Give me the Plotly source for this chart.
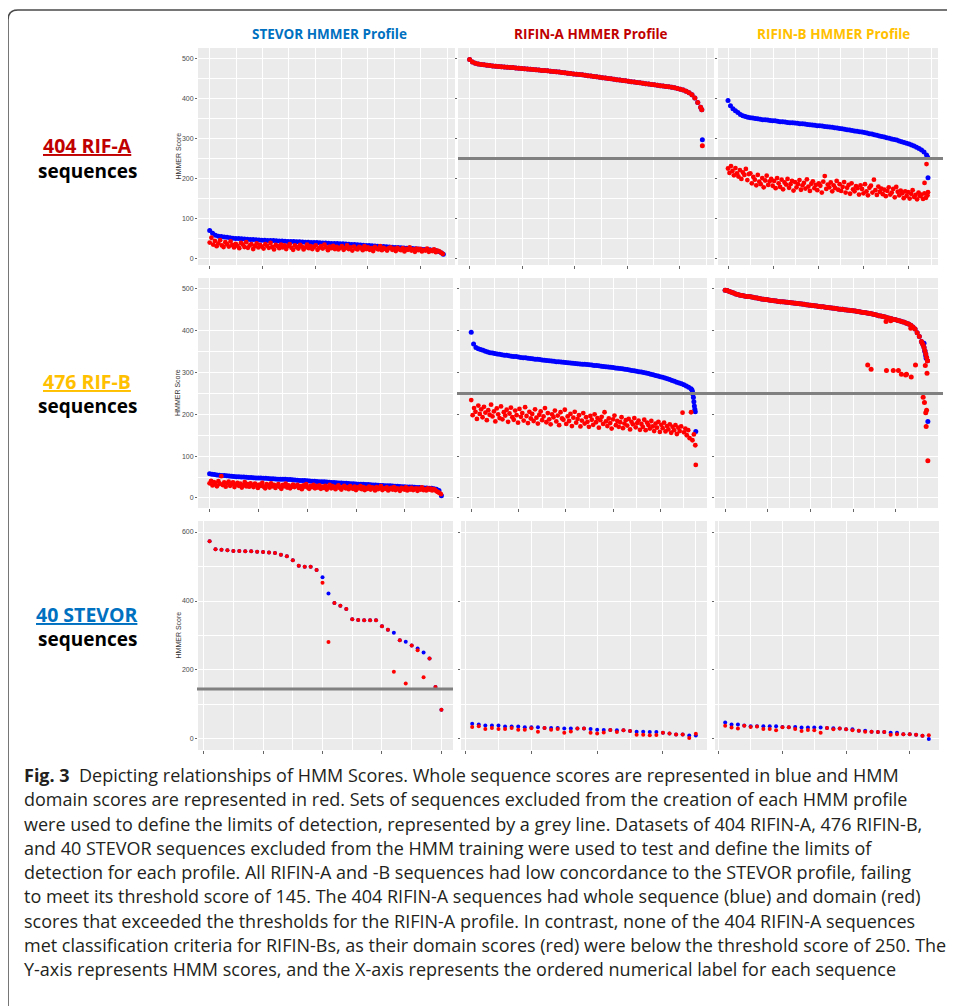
import plotly.graph_objects as go

W, H = 955, 1006
OFF = 8  # browser body margin: page content starts 8px right / down

# ================= DATA =================
col_titles = ["STEVOR HMMER Profile", "RIFIN-A HMMER Profile", "RIFIN-B HMMER Profile"]
row_counts = ["404 RIF-A", "476 RIF-B", "40 STEVOR"]
thresholds = {"STEVOR": 145, "RIFIN-A": 250, "RIFIN-B": 250}

# ---- Row 1: 404 RIF-A sequences (smooth series sampled every 5th, noisy every 3rd sequence)
r1c1_blue = [70, 63, 58, 56, 55, 54, 53, 52, 51, 50.5, 50, 49.5, 49, 48.5, 48, 47.5, 47, 46.5, 46, 46,
             45.5, 45, 45, 44.5, 44, 44, 43.5, 43, 43, 42.5, 42, 42, 41.5, 41, 41, 40.5, 40, 40, 39.5, 39,
             39, 38.5, 38, 38, 37.5, 37, 37, 36.5, 36, 35.5, 35, 34.5, 34, 33.5, 33, 32.5, 32, 31.5, 31, 30.5,
             30, 29.5, 29, 28.5, 28, 27.5, 27, 26.5, 26, 25.5, 25, 24.5, 24, 23.5, 23, 22.5, 22, 21, 20, 18, 14]
r1c1_blue_tail_idx = [404]
r1c1_blue_tail = [11]
r1c1_red = [40, 52, 35, 44, 31, 38, 46, 33, 29, 41, 36, 30, 43, 34, 28,
            37, 32, 26, 39, 35, 29, 41, 27, 33, 36, 24, 31, 38, 28, 34,
            30, 25, 36, 32, 27, 39, 29, 23, 34, 31, 26, 35, 28, 33, 24,
            31, 36, 27, 22, 33, 29, 25, 34, 30, 23, 28, 35, 26, 31, 24,
            29, 33, 22, 27, 31, 25, 35, 28, 21, 30, 26, 32, 24, 29, 23,
            27, 31, 22, 26, 33, 24, 28, 20, 30, 25, 23, 29, 27, 21, 31,
            24, 28, 22, 26, 19, 29, 25, 23, 31, 21, 27, 24, 20, 26, 28,
            22, 25, 19, 27, 23, 21, 26, 18, 24, 22, 28, 20, 23, 17, 25,
            21, 24, 18, 22, 20, 25, 17, 21, 19, 23, 16, 20, 18, 15, 12]

# RIFIN-A profile: whole-sequence (blue) and domain (red) scores coincide except the last sequence
r1c2_both = [497, 491, 488, 486, 485, 484, 483, 482, 481, 480.5, 480, 479, 478.5, 478, 477.5, 477, 476,
             475.5, 475, 474, 473.5, 473, 472, 471.5, 471, 470, 469.5, 469, 468, 467, 466.5, 466, 465,
             464, 463, 462, 461, 460.5, 460, 459, 458, 457, 456, 455, 454, 453, 452, 451, 450, 449, 448,
             447, 446, 445, 444, 443, 442, 441, 440, 439, 438, 437, 436, 435, 434, 433, 432, 431, 430,
             429, 428, 427, 425, 423, 421, 418, 414, 409, 401, 390, 378]
r1c2_tail_idx = [403, 404]
r1c2_blue_tail = [372, 297]
r1c2_red_tail = [372, 282]

r1c3_blue = [395, 382, 374, 369, 365, 360, 357, 355, 353, 352, 351, 350, 349, 348, 347, 346.5, 346,
             345, 344.5, 344, 343, 342, 341.5, 341, 340, 339.5, 339, 338.5, 338, 337, 336.5, 336, 335,
             334, 333.5, 333, 332, 331.5, 331, 330, 329, 328.5, 328, 327, 326, 325, 324, 323, 322, 321,
             320, 319, 318, 317, 316, 315, 313.5, 312, 311, 309.5, 308, 306.5, 305, 303.5, 302, 300.5,
             299, 297.5, 296, 294, 292, 290, 288, 286, 284, 281, 278, 275, 271, 266, 259]
r1c3_blue_tail_idx = [403, 404]
r1c3_blue_tail = [254, 202]
r1c3_red = [225, 214, 231, 219, 208, 226, 213, 205, 221, 199, 215, 209, 224, 196, 211,
            213, 188, 204, 197, 183, 209, 192, 186, 201, 178, 195, 207, 184, 193, 199,
            182, 194, 176, 201, 188, 179, 197, 173, 190, 185, 199, 177, 186, 194, 170,
            191, 178, 186, 196, 172, 183, 189, 175, 198, 180, 169, 187, 193, 176, 184,
            171, 188, 182, 165, 192, 206, 174, 185, 178, 190, 168, 183, 176, 194, 172,
            186, 169, 179, 191, 165, 177, 184, 162, 188, 173, 168, 181, 176, 160, 183,
            174, 163, 186, 168, 158, 177, 182, 165, 197, 171, 159, 180, 167, 175, 161,
            172, 156, 169, 178, 160, 165, 174, 153, 179, 167, 158, 170, 163, 151, 168,
            157, 166, 150, 162, 171, 154, 159, 148, 165, 156, 160, 149, 163, 152, 158]
r1c3_red_tail_idx = [397, 401, 404]
r1c3_red_tail = [189, 236, 166]

# ---- Row 2: 476 RIF-B sequences
r2c1_blue = [58, 57, 56, 55, 54.5, 54, 53.5, 53, 52.5, 52, 51.5, 51, 50.5, 50, 50, 49.5, 49, 49, 48.5, 48,
             48, 47.5, 47, 47, 46.5, 46, 46, 45.5, 45, 45, 44.5, 44.5, 44, 44, 43.5, 43, 42.5, 42, 42, 41.5,
             41, 40.5, 40, 40, 39.5, 39, 39, 38.5, 38, 37.5, 37, 37, 36.5, 36, 35.5, 35, 35, 34.5, 34, 34,
             33.5, 33, 33, 32.5, 32, 32, 31.5, 31, 31, 30.5, 30, 30, 29.5, 29, 29, 28.5, 28, 28, 27.5, 27,
             27, 26.5, 26, 26, 25.5, 25, 25, 24.5, 24, 24, 23.5, 23, 22, 21, 18, 5]
r2c1_red = [35, 41, 30, 38, 33, 28, 40, 34, 52, 31, 37, 27, 35, 39, 29,
            33, 37, 26, 32, 36, 29, 34, 25, 31, 38, 28, 33, 27, 35, 30,
            26, 34, 31, 24, 32, 29, 36, 27, 23, 33, 30, 25, 35, 28, 31,
            24, 29, 33, 26, 22, 31, 28, 34, 25, 30, 23, 27, 32, 26, 29,
            31, 24, 28, 21, 30, 27, 33, 25, 22, 29, 26, 31, 23, 28, 25,
            30, 22, 27, 24, 29, 20, 26, 31, 23, 28, 25, 21, 27, 30, 24,
            20, 26, 29, 23, 25, 21, 28, 24, 22, 27, 19, 25, 23, 28, 21,
            26, 19, 24, 22, 27, 20, 25, 23, 18, 26, 21, 24, 28, 19, 23,
            22, 25, 18, 21, 24, 20, 26, 19, 23, 21, 17, 24, 22, 20, 25,
            18, 22, 20, 24, 19, 21, 23, 17, 22, 20, 25, 19, 21, 18, 23,
            20, 22, 18, 21, 19, 16, 14, 12, 9]

r2c2_blue = [396, 368, 360, 357, 355, 353, 351, 349, 347.5, 346.5, 345.5, 344.5, 343.5, 342.5, 341.5, 341,
             340, 339, 338.5, 338, 337, 336, 335.5, 335, 334, 333.5, 333, 332, 331.5, 331, 330, 329.5, 329,
             328, 327.5, 327, 326, 325.5, 325, 324.5, 324, 323.5, 323, 322, 321.5, 321, 320.5, 320, 319.5,
             319, 318.5, 318, 317, 316.5, 316, 315, 314.5, 314, 313, 312.5, 312, 311, 310, 309.5, 309, 308,
             307, 306, 305, 304, 303, 302, 301, 300, 299, 297.5, 296, 294.5, 293, 291.5, 290, 288.5, 287,
             285, 283, 281, 279, 277, 275, 273, 271, 268, 265, 261]
r2c2_blue_tail_idx = [467, 468, 469, 470, 471, 472, 473, 474, 475]
r2c2_blue_tail = [258, 254, 248, 240, 230, 220, 212, 206, 159]
r2c2_red = [234, 198, 215, 206, 189, 221, 201, 212, 193, 218, 204, 186, 210, 199, 223,
            195, 207, 183, 214, 200, 191, 219, 188, 205, 197, 211, 182, 202, 216, 193,
            187, 209, 198, 180, 213, 194, 203, 185, 217, 196, 179, 206, 190, 201, 184,
            212, 192, 178, 199, 207, 186, 195, 215, 181, 203, 188, 176, 200, 193, 209,
            183, 197, 174, 205, 190, 187, 211, 177, 195, 184, 201, 172, 192, 206, 180,
            189, 198, 171, 185, 203, 178, 193, 182, 170, 196, 187, 175, 200, 181, 191,
            168, 186, 194, 177, 205, 183, 172, 190, 179, 166, 188, 197, 174, 184, 170,
            181, 193, 167, 178, 186, 173, 189, 164, 182, 176, 191, 169, 179, 185, 163,
            177, 170, 187, 162, 180, 174, 166, 184, 171, 160, 178, 168, 182, 158, 175,
            167, 180, 159, 172, 164, 176, 156, 170, 162, 174, 153, 168, 160, 171, 204,
            157, 166, 150, 162, 143, 205, 138, 152, 126]
r2c2_red_tail_idx = [475]
r2c2_red_tail = [79]

# RIFIN-B profile: blue and red coincide along the main curve
r2c3_both = [497, 496, 494, 492, 490, 488, 486.5, 485, 484, 483, 482, 481.5, 481, 480, 479, 478, 477, 476,
             475, 474.5, 474, 473, 472, 471.5, 471, 470, 469.5, 469, 468.5, 468, 467.5, 467, 466, 465.5,
             465, 464.5, 464, 463, 462, 461.5, 461, 460, 459.5, 459, 458, 457.5, 457, 456, 455.5, 455, 454,
             453.5, 453, 452, 451.5, 451, 450, 449.5, 449, 448, 447.5, 447, 446, 445, 444, 443.5, 443, 442,
             441, 440, 439, 437.5, 436, 435, 434, 432.5, 431, 430, 428.5, 427, 426, 424.5, 423, 421.5, 420,
             418, 416, 413, 409, 404, 395, 386, 374]
r2c3_tail_idx = [462, 464, 466, 468, 470, 472, 474]
r2c3_tail = [370, 366, 360, 352, 344, 336, 328]
r2c3_red_out_idx = [334, 342, 377, 388, 435, 378, 394, 406, 413, 423, 425, 436, 446,
                    469, 473, 474, 464, 467, 470, 472, 471, 475]
r2c3_red_out = [318, 308, 422, 424, 406, 305, 305, 305, 296, 294, 296, 289, 318,
                317, 298, 328, 241, 228, 204, 210, 171, 89]
r2c3_blue_out_idx = [466, 468, 470, 471, 475]
r2c3_blue_out = [370, 350, 340, 334, 183]

# ---- Row 3: 40 STEVOR sequences
r3c1_blue = [573, 550, 549, 547, 545, 545, 544, 544, 543, 542, 541, 539, 534, 530, 518, 502, 499, 499, 490, 469,
             422, 394, 386, 377, 347, 345, 344, 344, 344, 327, 317, 308, 286, 282, 271, 262, 251, 233, 151, 85]
r3c1_red = [573, 550, 549, 547, 545, 545, 544, 544, 543, 542, 541, 539, 534, 530, 518, 502, 499, 499, 490, 453,
            281, 394, 386, 377, 347, 345, 344, 344, 344, 327, 317, 195, 286, 161, 271, 257, 179, 233, 151, 85]
r3c2_blue = [44, 42, 39, 39, 39, 36, 36, 36, 34, 34, 34, 32, 32, 32, 30, 30, 30, 30, 29, 27, 26, 26, 25, 25,
             23, 21, 21, 20, 20, 18, 16, 13, 13, 10, 10]
r3c2_red = [35, 37, 29, 32, 29, 29, 32, 27, 27, 31, 21, 32, 27, 29, 18, 22, 30, 30, 18, 16, 19, 26, 20, 25,
            23, 12.5, 12.5, 10.6, 11.5, 18, 16, 13, 13, 3, 15]
r3c3_blue = [48, 42, 42, 39, 37, 37, 37, 37, 37, 35, 34, 35, 33, 33, 33, 33, 32, 31, 30, 28, 28, 24, 24, 21,
             20, 20, 18, 18, 14, 14, 12.5, 9, 0]
r3c3_red = [38, 33, 30, 38, 35, 36, 29, 29, 25, 34, 34, 29, 23, 26, 25, 18, 32, 28, 30, 28, 25, 24, 21, 21,
            20, 20, 12.5, 14, 14, 14, 12.5, 9, 10.6]

caption_lines = [
    "<b>Fig. 3</b>  Depicting relationships of HMM Scores. Whole sequence scores are represented in blue and HMM",
    "domain scores are represented in red. Sets of sequences excluded from the creation of each HMM profile",
    "were used to define the limits of detection, represented by a grey line. Datasets of 404 RIFIN-A, 476 RIFIN-B,",
    "and 40 STEVOR sequences excluded from the HMM training were used to test and define the limits of",
    "detection for each profile. All RIFIN-A and -B sequences had low concordance to the STEVOR profile, failing",
    "to meet its threshold score of 145. The 404 RIFIN-A sequences had whole sequence (blue) and domain (red)",
    "scores that exceeded the thresholds for the RIFIN-A profile. In contrast, none of the 404 RIFIN-A sequences",
    "met classification criteria for RIFIN-Bs, as their domain scores (red) were below the threshold score of 250. The",
    "Y-axis represents HMM scores, and the X-axis represents the ordered numerical label for each sequence",
]

# ================= HELPERS =================
BLUE, RED = "#0000FF", "#FF0000"


def px(x):
    return (x - OFF) / W


def py(y):
    return 1 - (y - OFF) / H


def seq(start, step, vals):
    return [start + step * i for i in range(len(vals))]


fig = go.Figure()


def add(n, xs, ys, color, size):
    fig.add_trace(go.Scatter(x=xs, y=ys, mode="markers", xaxis=f"x{n}", yaxis=f"y{n}",
                             marker=dict(color=color, size=size, line=dict(width=0)),
                             hoverinfo="skip", showlegend=False))


S = 5.0   # smooth curve marker size
N_ = 4.8  # noisy marker size
add(1, seq(1, 5, r1c1_blue) + r1c1_blue_tail_idx, r1c1_blue + r1c1_blue_tail, BLUE, S)
add(1, seq(1, 3, r1c1_red), r1c1_red, RED, N_)
add(2, seq(1, 5, r1c2_both) + r1c2_tail_idx, r1c2_both + r1c2_blue_tail, BLUE, S)
add(2, seq(1, 5, r1c2_both) + r1c2_tail_idx, r1c2_both + r1c2_red_tail, RED, S)
add(3, seq(1, 5, r1c3_blue) + r1c3_blue_tail_idx, r1c3_blue + r1c3_blue_tail, BLUE, S)
add(3, seq(1, 3, r1c3_red) + r1c3_red_tail_idx, r1c3_red + r1c3_red_tail, RED, N_)
add(4, seq(0, 5, r2c1_blue), r2c1_blue, BLUE, S)
add(4, seq(0, 3, r2c1_red), r2c1_red, RED, N_)
add(5, seq(0, 5, r2c2_blue) + r2c2_blue_tail_idx, r2c2_blue + r2c2_blue_tail, BLUE, S)
add(5, seq(0, 3, r2c2_red) + r2c2_red_tail_idx, r2c2_red + r2c2_red_tail, RED, N_)
add(6, seq(0, 5, r2c3_both) + r2c3_tail_idx + r2c3_blue_out_idx, r2c3_both + r2c3_tail + r2c3_blue_out, BLUE, S)
add(6, seq(0, 5, r2c3_both) + r2c3_tail_idx + r2c3_red_out_idx, r2c3_both + r2c3_tail + r2c3_red_out, RED, S)
add(7, seq(1, 1, r3c1_blue), r3c1_blue, BLUE, 4)
add(7, seq(1, 1, r3c1_red), r3c1_red, RED, 4)
add(8, seq(1, 1, r3c2_blue), r3c2_blue, BLUE, 4)
add(8, seq(1, 1, r3c2_red), r3c2_red, RED, 4)
add(9, seq(1, 1, r3c3_blue), r3c3_blue, BLUE, 4)
add(9, seq(1, 1, r3c3_red), r3c3_red, RED, 4)

# ================= LAYOUT =================
boxes = {
    1: (198, 455, 48, 265), 2: (458, 714, 48, 265), 3: (718, 938, 48, 265),
    4: (198, 453, 278, 508), 5: (460, 707, 278, 508), 6: (715, 938, 278, 508),
    7: (198, 453, 521, 750), 8: (461, 707, 521, 750), 9: (715, 939, 521, 750),
}


def xr(first, last):
    e = 0.05 * (last - first)
    return [first - e, last + e]


xcfg = {
    1: (xr(1, 404), 1, 91), 2: (xr(1, 404), 1, 91), 3: (xr(1, 404), 1, 91),
    4: (xr(0, 475), 0, 100), 5: (xr(0, 475), 0, 100), 6: (xr(0, 475), 0, 100),
    7: (xr(1, 40), 0, 10), 8: (xr(1, 35), 0, 10), 9: (xr(1, 33), 0, 10),
}

GRID = "#FFFFFF"
lay = dict(width=W, height=H, margin=dict(l=0, r=0, t=0, b=0),
           paper_bgcolor="white", plot_bgcolor="#EBEBEB", showlegend=False)

for n, (x0, x1, y0, y1) in boxes.items():
    row = (n - 1) // 3
    col = (n - 1) % 3
    rng, t0, dt = xcfg[n]
    sfx = "" if n == 1 else str(n)
    lay["xaxis" + sfx] = dict(
        domain=[px(x0), px(x1)], range=rng, anchor=f"y{n}", tick0=t0, dtick=dt,
        showticklabels=False, ticks="outside", ticklen=3, tickcolor="#666", tickwidth=1,
        showgrid=True, gridcolor=GRID, gridwidth=1, zeroline=False, showline=False,
        minor=dict(tick0=t0 + dt / 2, dtick=dt, showgrid=True, gridcolor=GRID, gridwidth=0.5),
        fixedrange=True)
    if row < 2:
        yr, ydt = ([-16, 526] if row == 0 else [-24, 526]), 100
    else:
        yr, ydt = [-32, 632], 200
    lay["yaxis" + sfx] = dict(
        domain=[py(y1), py(y0)], range=yr, anchor=f"x{n}", tick0=0, dtick=ydt,
        showticklabels=(col == 0), ticks="outside", ticklen=2, tickcolor="#666", tickwidth=1,
        tickfont=dict(family="Liberation Sans, Arial", size=7, color="#4D4D4D"),
        showgrid=True, gridcolor=GRID, gridwidth=1, zeroline=False, showline=False,
        minor=dict(tick0=ydt / 2, dtick=ydt, showgrid=True, gridcolor=GRID, gridwidth=0.5),
        fixedrange=True)

fig.update_layout(**lay)

shapes = []
shapes.append(dict(type="line", xref="paper", yref="y2", x0=px(458), x1=px(943),
                   y0=thresholds["RIFIN-A"], y1=thresholds["RIFIN-A"], line=dict(color="#808080", width=3)))
shapes.append(dict(type="line", xref="paper", yref="y5", x0=px(457), x1=px(943),
                   y0=thresholds["RIFIN-B"], y1=thresholds["RIFIN-B"], line=dict(color="#808080", width=3)))
shapes.append(dict(type="line", xref="paper", yref="y7", x0=px(197), x1=px(453),
                   y0=thresholds["STEVOR"], y1=thresholds["STEVOR"], line=dict(color="#808080", width=3)))

# rounded frame (left + top edges)
fx0, fy0, r = px(8), py(10), 10
path = f"M {fx0},-0.01 L {fx0},{fy0 - r / H} Q {fx0},{fy0} {fx0 + r / W},{fy0} L 1.02,{fy0}"
shapes.append(dict(type="path", xref="paper", yref="paper", path=path,
                   line=dict(color="#4a4a4a", width=1.5)))
fig.update_layout(shapes=shapes)

ann = []
title_colors = ["#0070C0", "#C00000", "#FFC000"]
title_x = [329, 591, 833]
for t, c, x in zip(col_titles, title_colors, title_x):
    ann.append(dict(text=f"<b>{t}</b>", x=px(x), y=py(34), xref="paper", yref="paper",
                    showarrow=False, xanchor="center", yanchor="middle",
                    font=dict(family="Open Sans", size=13.5, color=c)))
row_colors = ["#C00000", "#FFC000", "#0070C0"]
row_y = [146, 381, 614]
for t, c, y in zip(row_counts, row_colors, row_y):
    ann.append(dict(text=f"<b><u>{t}</u></b>", x=px(87), y=py(y), xref="paper", yref="paper",
                    showarrow=False, xanchor="center", yanchor="middle",
                    font=dict(family="Open Sans", size=19.5, color=c)))
    ann.append(dict(text="<b>sequences</b>", x=px(87), y=py(y + 25), xref="paper", yref="paper",
                    showarrow=False, xanchor="center", yanchor="middle",
                    font=dict(family="Open Sans", size=19, color="#000000")))
for n in (1, 4, 7):
    x0, x1, y0, y1 = boxes[n]
    ann.append(dict(text="HMMER Score", x=px(178), y=py((y0 + y1) / 2), xref="paper", yref="paper",
                    showarrow=False, textangle=-90, xanchor="center", yanchor="middle",
                    font=dict(family="Liberation Sans, Arial", size=7, color="#333333")))
for i, line in enumerate(caption_lines):
    ann.append(dict(text=line, x=px(22), y=py(775 + 24.25 * i), xref="paper", yref="paper",
                    showarrow=False, xanchor="left", yanchor="middle",
                    font=dict(family="Open Sans", size=18, color="#231F20")))
fig.update_layout(annotations=ann)

fig.write_html("out.html")
